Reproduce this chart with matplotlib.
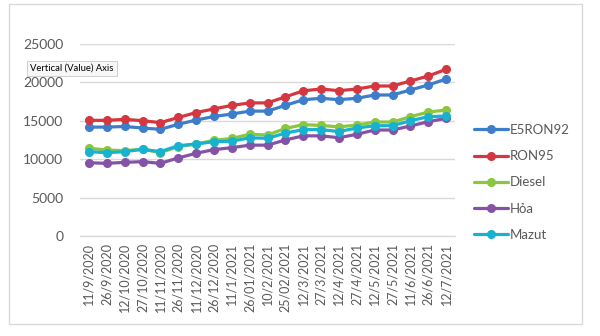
import matplotlib
matplotlib.use("Agg")
import matplotlib.pyplot as plt
from matplotlib.patches import Rectangle

dates = ["11/9/2020", "26/9/2020", "12/10/2020", "27/10/2020", "11/11/2020",
         "26/11/2020", "11/12/2020", "26/12/2020", "11/1/2021", "26/01/2021",
         "10/2/2021", "25/02/2021", "12/3/2021", "27/3/2021", "12/4/2021",
         "27/4/2021", "12/5/2021", "27/5/2021", "11/6/2021", "26/6/2021",
         "12/7/2021"]

e5ron92 = [14180, 14180, 14260, 14060, 13890, 14540, 15100, 15560, 15880, 16260,
           16260, 17010, 17740, 17930, 17750, 17930, 18360, 18360, 19010, 19660, 20440]
ron95 = [15060, 15060, 15190, 15020, 14760, 15430, 16070, 16550, 17000, 17330,
         17330, 18120, 18900, 19140, 18920, 19140, 19530, 19530, 20180, 20830, 21700]
diesel = [11420, 11200, 11110, 11290, 10850, 11630, 11980, 12450, 12700, 13250,
          13150, 14000, 14500, 14400, 14200, 14450, 14840, 14840, 15530, 16140, 16400]
hoa = [9540, 9460, 9590, 9680, 9460, 10160, 10770, 11250, 11500, 11830,
       11830, 12500, 13040, 13040, 12800, 13240, 13800, 13800, 14320, 14880, 15320]
mazut = [10980, 10850, 10980, 11290, 10980, 11760, 11980, 12280, 12350, 12780,
         12720, 13400, 13850, 13850, 13600, 14060, 14360, 14360, 15010, 15530, 15620]

series_names = ["E5RON92", "RON95", "Diesel", "Hỏa", "Mazut"]
series_values = [e5ron92, ron95, diesel, hoa, mazut]
colors = ["#3D7DCA", "#D4373F", "#8CC63F", "#8553A5", "#17B2D0"]
y_ticks = [0, 5000, 10000, 15000, 20000, 25000]

plt.rcParams['font.family'] = ['Lato', 'DejaVu Sans']

W, H = 600, 336
fig = plt.figure(figsize=(W / 100, H / 100), dpi=100)
fig.patch.set_facecolor("white")

# chart border
fig.patches.append(Rectangle((9 / W, 1 - 324 / H), 573 / W, 320 / H,
                             transform=fig.transFigure, fill=False,
                             edgecolor="#D9D9D9", linewidth=1.0))

ax = fig.add_axes([80 / W, 1 - 236 / H, 375 / W, 192 / H])
x = list(range(len(dates)))
handles = []
for name, vals, c in zip(series_names, series_values, colors):
    h, = ax.plot(x, vals, color=c, linewidth=2.3, marker="o", markersize=5.5,
                 label=name, solid_capstyle="round", zorder=3)
    handles.append(h)

ax.set_xlim(-0.5, len(dates) - 0.5)
ax.set_ylim(0, 25000)
ax.set_yticks(y_ticks)
ax.set_yticklabels([str(v) for v in y_ticks])
ax.set_xticks(x)
ax.set_xticklabels(dates, rotation=90)
ax.tick_params(axis="both", length=0, colors="#595959")
ax.tick_params(axis="y", labelsize=10, pad=12)
ax.tick_params(axis="x", labelsize=9, pad=5)
ax.grid(axis="y", color="#D9D9D9", linewidth=1.0)
ax.set_axisbelow(True)
for s in ["top", "right", "left"]:
    ax.spines[s].set_visible(False)
ax.spines["bottom"].set_color("#D9D9D9")
ax.spines["bottom"].set_linewidth(1.0)

leg = fig.legend(handles=handles, loc="upper left",
                 bbox_to_anchor=(462 / W, 1 - 112 / H), frameon=False,
                 fontsize=9.5, labelspacing=1.08, handlelength=2.6,
                 handletextpad=0.15, labelcolor="#595959")

fig.text(30 / W, 1 - 68.5 / H, "Vertical (Value) Axis", fontsize=6.8,
         color="black", va="center", ha="left",
         bbox=dict(boxstyle="square,pad=0.35", facecolor="#F7F7F7",
                   edgecolor="#C8C8C8", linewidth=0.6))

fig.savefig("out.png", dpi=100)
